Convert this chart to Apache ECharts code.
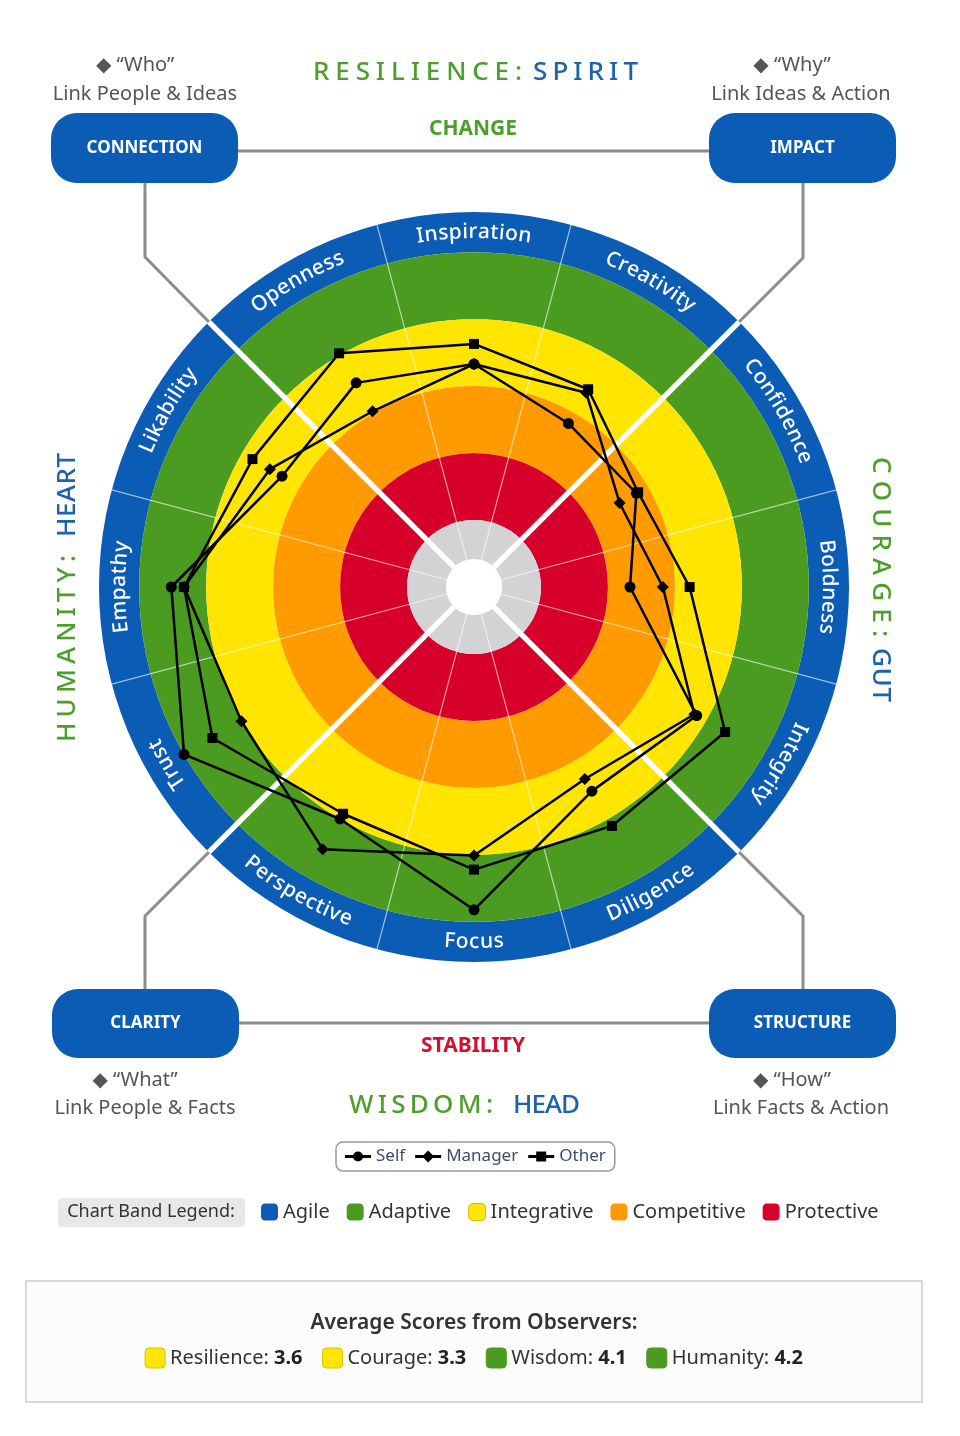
<!DOCTYPE html>
<html><head><meta charset="utf-8">
<script src="https://cdn.jsdelivr.net/npm/echarts@6/dist/echarts.min.js"></script>
<style>html,body{margin:0;padding:0;background:#fff}#c{width:960px;height:1436px}</style>
</head><body><div id="c"></div>
<script>
// ---- data (indicator order follows ECharts radar: counter-clockwise from top) ----
const categories    = ['Inspiration','Openness','Likability','Empathy','Trust','Perspective','Focus','Diligence','Integrity','Boldness','Confidence','Creativity'];
const selfScores    = [3.33,3.52,3.31,4.52,5.00,4.00,4.82,3.52,3.84,2.33,2.80,2.82];
const managerScores = [3.33,3.03,3.52,4.33,4.01,4.52,4.01,3.31,3.80,2.82,2.51,3.35];
const otherScores   = [3.63,4.03,3.82,4.33,4.51,3.91,4.22,4.12,4.33,3.22,2.83,3.41];
const seriesNames   = ['Self','Manager','Other'];
const bandNames     = ['Agile','Adaptive','Integrative','Competitive','Protective'];
const bandOuter     = [5.6,5,4,3,2];
const coreOuter     = 1;
const coreInner     = 0.42;
const avgNames      = ['Resilience','Courage','Wisdom','Humanity'];
const avgValues     = [3.6,3.3,4.1,4.2];

// ---- layout / style ----
const CX=474, CY=587, R=375, MAX=5.6, U=R/MAX;
const BLUE='#0b5cb5', GREEN='#4b9b20', YELLOW='#ffe500', ORANGE='#ff9a00', RED='#d6002b', GREY='#d3d3d6';
const bandColors=[BLUE,GREEN,YELLOW,ORANGE,RED];
const TGREEN='#4d9e2a', TBLUE='#1c62b0';
const FF='"Noto Sans", "DejaVu Sans", sans-serif';

const cvs=document.createElement('canvas').getContext('2d');
function tw(t,font){cvs.font=font;return cvs.measureText(t).width;}

const g=[];
function txt(text,x,y,font,fill,align,extra){
  const o={type:'text',x,y,z:6,silent:true,style:{text,font,fill,align:align||'center',verticalAlign:'middle',textAlign:align||'center',textVerticalAlign:'middle'}};
  if(extra) Object.assign(o.style,extra);
  g.push(o);
}
// characters spread evenly between two points (letter-spaced)
function lineText(str,x0,y0,x1,y1,font,fill,rot){
  const ch=[...str], ws=ch.map(c=>tw(c,font));
  const W=ws.reduce((a,b)=>a+b,0), L=Math.hypot(x1-x0,y1-y0);
  const s=ch.length>1?(L-W)/(ch.length-1):0, dx=(x1-x0)/L, dy=(y1-y0)/L;
  let cum=0;
  ch.forEach((c,i)=>{
    const d=cum+ws[i]/2; cum+=ws[i]+s;
    g.push({type:'text',x:x0+dx*d,y:y0+dy*d,rotation:rot||0,z:6,silent:true,
      style:{text:c,font,fill,align:'center',verticalAlign:'middle',textAlign:'center',textVerticalAlign:'middle'}});
  });
}
// curved text in the outer ring
function arcText(str,deg,r,font,fill,outward,sp){
  const ch=[...str], ws=ch.map(c=>tw(c,font));
  const total=ws.reduce((a,b)=>a+b,0)+sp*(ch.length-1);
  const a0=deg*Math.PI/180; let cum=0;
  ch.forEach((c,i)=>{
    const d=cum+ws[i]/2-total/2; cum+=ws[i]+sp;
    const a=outward?a0-d/r:a0+d/r;
    g.push({type:'text',x:CX+r*Math.cos(a),y:CY-r*Math.sin(a),rotation:outward?a-Math.PI/2:a+Math.PI/2,z:6,silent:true,
      style:{text:c,font,fill,align:'center',verticalAlign:'middle',textAlign:'center',textVerticalAlign:'middle'}});
  });
}

// ring labels (angle from category index: radar goes counter-clockwise from 90deg)
const ringFont='500 21px '+FF;
categories.forEach((c,i)=>{
  let deg=90+30*i; if(deg>180) deg-=360;
  const bottom = deg<=-60 && deg>=-120;
  arcText(c,deg,(bandOuter[0]+bandOuter[1])/2*U,ringFont,'#fff',!bottom,0.5);
});

// titles
const TF='500 26px '+FF;
lineText('RESILIENCE:',313,73,522,73,TF,TGREEN);
lineText('SPIRIT',533,73,638,73,TF,TBLUE);
lineText('WISDOM:',349,1106,493,1106,TF,TGREEN);
lineText('HEAD',513,1106,580,1106,TF,TBLUE);
lineText('HUMANITY:',68,742,68,555,TF,TGREEN,Math.PI/2);
lineText('HEART',68,537,68,453,TF,TBLUE,Math.PI/2);
lineText('COURAGE:',880,457,880,637,TF,TGREEN,-Math.PI/2);
lineText('GUT',880,648,880,702,TF,TBLUE,-Math.PI/2);

txt('CHANGE',473,129,'bold 21px '+FF,TGREEN);
txt('STABILITY',473,1046,'bold 21px '+FF,'#d3112f');

// connectors
const LC='#8c8c8c';
[[[238,151],[709,151]],[[239,1023],[709,1023]],
 [[145,183],[145,257],[209,322]],[[803,183],[803,258],[739,322]],
 [[145,989],[145,916],[209,852]],[[803,989],[803,916],[739,852]]].forEach(p=>{
  g.push({type:'polyline',z:3,silent:true,shape:{points:p},style:{stroke:LC,lineWidth:3,fill:null}});
});
// boxes
function box(x,y,w,h,label){
  g.push({type:'rect',z:5,silent:true,shape:{x,y,width:w,height:h,r:26},style:{fill:BLUE}});
  txt(label,x+w/2,y+h/2,'bold 17px '+FF,'#fff');
}
box(51,113,187,70,'CONNECTION');
box(709,113,187,70,'IMPACT');
box(52,989,187,69,'CLARITY');
box(709,989,187,69,'STRUCTURE');

const SF='20px '+FF, SC='#555';
txt('\u25C6 \u201CWho\u201D',135,65,SF,SC);
txt('Link People & Ideas',145,94,SF,SC);
txt('\u25C6 \u201CWhy\u201D',792,65,SF,SC);
txt('Link Ideas & Action',801,94,SF,SC);
txt('\u25C6 \u201CWhat\u201D',135,1080,SF,SC);
txt('Link People & Facts',145,1108,SF,SC);
txt('\u25C6 \u201CHow\u201D',792,1080,SF,SC);
txt('Link Facts & Action',801,1108,SF,SC);

// band legend label
g.push({type:'rect',z:5,silent:true,shape:{x:58,y:1198,width:187,height:29,r:4},style:{fill:'#e8e8e8'}});
txt('Chart Band Legend:',151,1212,'18px '+FF,'#333');

// average box
g.push({type:'rect',z:4,silent:true,shape:{x:26,y:1281,width:896,height:121},style:{fill:'#fcfcfc',stroke:'#d9d9d9',lineWidth:2}});
txt('Average Scores from Observers:',474,1323,'600 21px '+FF,'#333');
function bandOf(v){ for(let i=bandOuter.length-1;i>=0;i--){ if(v<bandOuter[i]) return i; } return 0; }
(function(){
  const rf='20px '+FF, bf='bold 20px '+FF, sq=20, gap1=5, gap2=20;
  const items=avgNames.map((n,i)=>{const a=n+': ', b=avgValues[i].toFixed(1);return {a,b,w:sq+gap1+tw(a,rf)+tw(b,bf),c:bandColors[bandOf(avgValues[i])]};});
  const total=items.reduce((s,it)=>s+it.w,0)+gap2*(items.length-1);
  let x=474-total/2; const y=1358;
  items.forEach(it=>{
    g.push({type:'rect',z:6,silent:true,shape:{x,y:y-10,width:sq,height:sq,r:4},style:{fill:it.c,stroke:it.c===YELLOW?'#d8c400':it.c,lineWidth:1}});
    const tx=x+sq+gap1;
    g.push({type:'text',x:tx,y,z:6,silent:true,style:{text:it.a+'{b|'+it.b+'}',font:rf,fill:'#333',align:'left',verticalAlign:'middle',textAlign:'left',textVerticalAlign:'middle',
      rich:{b:{font:bf,fill:'#222',fontWeight:'bold',fontSize:20,fontFamily:FF}}}});
    x+=it.w+gap2;
  });
})();

// ---- series ----
const series=[];
bandNames.forEach((n,i)=>{
  const inner=i<bandNames.length-1?bandOuter[i+1]:coreOuter;
  series.push({type:'pie',name:'band '+n,center:[CX,CY],radius:[inner*U,bandOuter[i]*U],silent:true,z:1,
    label:{show:false},labelLine:{show:false},emphasis:{disabled:true},itemStyle:{borderWidth:0},
    data:[{name:n,value:1,itemStyle:{color:bandColors[i]}}]});
});
series.push({type:'pie',name:'core',center:[CX,CY],radius:[coreInner*U,coreOuter*U],silent:true,z:1,
  label:{show:false},labelLine:{show:false},emphasis:{disabled:true},itemStyle:{borderWidth:0},
  data:[{name:'core',value:1,itemStyle:{color:GREY}}]});

const symbols=['circle','diamond','rect'], sizes=[11,12,10];
[selfScores,managerScores,otherScores].forEach((arr,i)=>{
  series.push({type:'radar',name:seriesNames[i],z:10,symbol:symbols[i],symbolSize:sizes[i],
    lineStyle:{color:'#000',width:2.5},itemStyle:{color:'#000'},emphasis:{disabled:true},
    data:[{name:seriesNames[i],value:arr}]});
});

const iconLine='M0,5.5h26v3H0z ';
const option={
  animation:false,
  backgroundColor:'#fff',
  radar:{center:[CX,CY],radius:R,startAngle:90,shape:'circle',splitNumber:1,
    indicator:categories.map(c=>({name:c,min:0,max:MAX})),
    axisName:{show:false},axisLine:{show:false},splitLine:{show:false},splitArea:{show:false},axisTick:{show:false},axisLabel:{show:false}},
  polar:[{center:[CX,CY],radius:[coreInner*U,R]},{center:[CX,CY],radius:[coreInner*U,R]}],
  angleAxis:[
    {polarIndex:0,type:'category',data:categories,startAngle:105,clockwise:true,z:3,
     axisLine:{show:false},axisTick:{show:false},axisLabel:{show:false},
     splitLine:{show:true,lineStyle:{color:'rgba(255,255,255,0.6)',width:1.2}}},
    {polarIndex:1,type:'category',data:avgNames,startAngle:135,clockwise:true,z:4,
     axisLine:{show:false},axisTick:{show:false},axisLabel:{show:false},
     splitLine:{show:true,lineStyle:{color:'#fff',width:5.5}}}
  ],
  radiusAxis:[{polarIndex:0,type:'value',show:false},{polarIndex:1,type:'value',show:false}],
  legend:[
    {left:336,top:1142,orient:'horizontal',itemWidth:26,itemHeight:14,itemGap:10,
     padding:[6,9],borderColor:'#9a9a9a',borderWidth:1.5,borderRadius:7,
     textStyle:{color:'#3b4d6b',fontSize:17,fontFamily:FF},selectedMode:false,
     data:[
       {name:'Self',icon:'path://'+iconLine+'M8,7a5,5 0 1,1 10,0a5,5 0 1,1 -10,0z'},
       {name:'Manager',icon:'path://'+iconLine+'M13,1L19,7L13,13L7,7z'},
       {name:'Other',icon:'path://'+iconLine+'M8,2h10v10H8z'}]},
    {left:256,top:1197,orient:'horizontal',itemWidth:17,itemHeight:17,itemGap:17,icon:'roundRect',
     textStyle:{color:'#333',fontSize:20,fontFamily:FF},selectedMode:false,
     data:bandNames.map(n=>n==='Integrative'?{name:n,itemStyle:{borderColor:'#d0bd00',borderWidth:1}}:{name:n})}
  ],
  graphic:{elements:g},
  series
};
const chart=echarts.init(document.getElementById('c'),null,{renderer:'canvas'});
chart.setOption(option);
</script></body></html>
